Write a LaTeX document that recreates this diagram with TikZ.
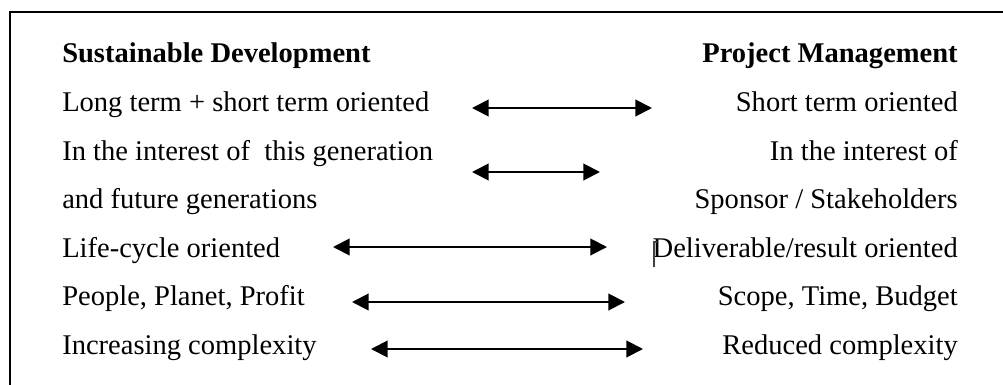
\documentclass[tikz,border=0pt]{standalone}
\usepackage{fontspec}
\setmainfont{Liberation Serif}
\usetikzlibrary{arrows.meta}
\begin{document}
\begin{tikzpicture}[x=0.75pt,y=-0.75pt,
  lt/.style={anchor=base west,inner sep=0pt,font=\fontsize{21.4}{25}\selectfont},
  rt/.style={anchor=base east,inner sep=0pt,font=\fontsize{21.4}{25}\selectfont},
  dbl/.style={line width=1.5pt,{Triangle[length=12.5pt,width=12.5pt]}-{Triangle[length=12.5pt,width=12.5pt]}},
  frame/.style={line width=1.5pt}]
\useasboundingbox (0,0) rectangle (1003,385);
\coordinate (fb) at (10,385);
\coordinate (ftl) at (10,12);
\coordinate (fr) at (1003,12);
\draw[frame] (fb) -- (ftl) -- (fr);
% left column
\node[lt,font=\fontsize{21.4}{25}\selectfont\bfseries] (l0) at (62,63) {Sustainable Development};
\node[lt] (l1) at (62,111.5) {Long term + short term oriented};
\node[lt] (l2) at (62,160) {In the interest of\ \ this generation};
\node[lt] (l3) at (62,208.5) {and future generations};
\node[lt] (l4) at (62,257) {Life-cycle oriented};
\node[lt] (l5) at (62,305.5) {People, Planet, Profit};
\node[lt] (l6) at (62,354) {Increasing complexity};
% right column
\node[rt,font=\fontsize{21.4}{25}\selectfont\bfseries] (r0) at (958,63) {Project Management};
\node[rt] (r1) at (958,111.5) {Short term oriented};
\node[rt] (r2) at (958,160) {In the interest of};
\node[rt] (r3) at (958,208.5) {Sponsor / Stakeholders};
\node[rt] (r4) at (958,257) {Deliverable/result oriented};
\node[rt] (r5) at (958,305.5) {Scope, Time, Budget};
\node[rt] (r6) at (958,354) {Reduced complexity};
% cursor
\coordinate (c1) at (654,242);
\coordinate (c2) at (654,267);
\coordinate (c3) at (657,242);
\draw[line width=0.8pt,black!75] (c3) -- (c1) -- (c2);
% arrows
\coordinate (a1l) at (472,108); \coordinate (a1r) at (652,108);
\coordinate (a2l) at (472,172); \coordinate (a2r) at (600,172);
\coordinate (a3l) at (333,247); \coordinate (a3r) at (607,247);
\coordinate (a4l) at (352,302); \coordinate (a4r) at (625,302);
\coordinate (a5l) at (371,349); \coordinate (a5r) at (643,349);
\draw[dbl] (a1l) -- (a1r);
\draw[dbl] (a2l) -- (a2r);
\draw[dbl] (a3l) -- (a3r);
\draw[dbl] (a4l) -- (a4r);
\draw[dbl] (a5l) -- (a5r);
\end{tikzpicture}
\end{document}
